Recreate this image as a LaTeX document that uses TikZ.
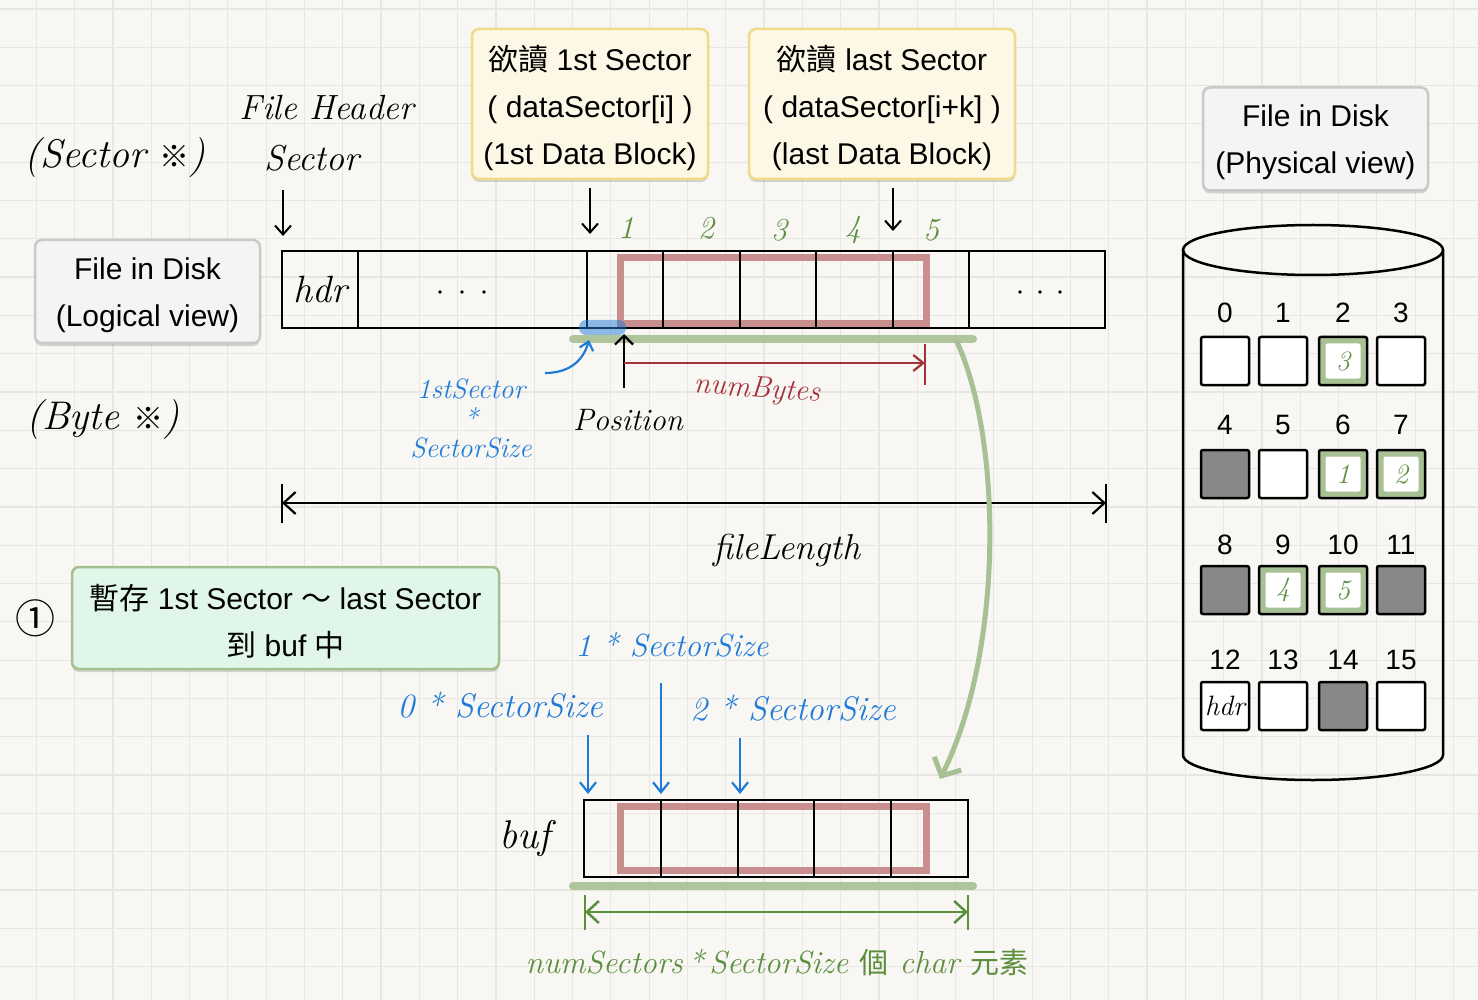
\documentclass[tikz,border=0pt]{standalone}
\usepackage{fontspec}
\setsansfont{Liberation Sans}
\newfontfamily\cjk{Noto Sans CJK TC}
\usetikzlibrary{arrows.meta,shadows,calc}
\definecolor{bgc}{HTML}{F8F7F3}
\definecolor{gridc}{HTML}{E7E6E2}
\definecolor{pinkc}{HTML}{C98F8F}
\definecolor{greenl}{HTML}{A8C194}
\definecolor{greend}{HTML}{5B8F3E}
\definecolor{bluec}{HTML}{1F7BD8}
\definecolor{redc}{HTML}{A3333A}
\definecolor{yfill}{HTML}{FDF8E6}
\definecolor{ydraw}{HTML}{EEDC88}
\definecolor{gfill}{HTML}{F4F4F4}
\definecolor{gdraw}{HTML}{C9C9C9}
\definecolor{mfill}{HTML}{E0F6E9}
\definecolor{mdraw}{HTML}{A5C08E}
\definecolor{darkc}{HTML}{888888}
\begin{document}
\begin{tikzpicture}[x=1pt,y=-1pt,
  box/.style={rounded corners=7pt, line width=2.5pt, inner sep=0pt,
    drop shadow={shadow xshift=0pt, shadow yshift=-3pt, opacity=0.15, fill=black}},
  boxtext/.style={align=center, inner sep=0pt, font=\sffamily\fontsize{30}{47}\selectfont},
  yellowbox/.style={box, fill=yfill, draw=ydraw, minimum height=150pt},
  graybox/.style={box, fill=gfill, draw=gdraw, minimum width=225pt, minimum height=103pt},
  mintbox/.style={box, fill=mfill, draw=mdraw, minimum width=427pt, minimum height=102pt},
  hand/.style={inner sep=0pt, align=center, font=\rmfamily\itshape\fontsize{40}{44}\selectfont},
  handm/.style={inner sep=0pt, align=center, font=\rmfamily\itshape\fontsize{32}{36}\selectfont},
  barline/.style={line width=2.5pt},
  arr/.style={line width=2pt, -{Straight Barb[length=9pt,width=16pt]}},
  sq/.style={draw, line width=2.5pt, rounded corners=2pt, minimum width=48pt, minimum height=48pt, inner sep=0pt, fill=white},
  sqdark/.style={sq, fill=darkc},
  sqgreen/.style={sq, fill=greenl, path picture={\fill[white] ([shift={(6.5pt,6.5pt)}]path picture bounding box.south west) rectangle ([shift={(-6.5pt,-6.5pt)}]path picture bounding box.north east);},
    text=greend, font=\rmfamily\itshape\fontsize{28}{30}\selectfont},
  numlab/.style={inner sep=0pt, font=\sffamily\fontsize{28}{30}\selectfont},
  thickgreen/.style={greenl, line width=8pt, line cap=round, opacity=0.9}
]
\useasboundingbox (0,0) rectangle (1478,1000);
\fill[bgc] (0,0) rectangle (1478,1000);
\foreach \i in {0,...,39} \draw[gridc, line width=1.2pt] ({-2+38.3*\i},0) -- ++(0,1000);
\foreach \j in {0,...,26} \draw[gridc, line width=1.2pt] (0,{9+38.3*\j}) -- ++(1478,0);

% ---- handwritten headings
\node[hand] (seclab) at (115,158) {(Sector {\cjk\fontsize{30}{32}\selectfont ※})};
\node[hand, font=\rmfamily\itshape\fontsize{35}{40}\selectfont] (fhlab) at (327,108) {File Header};
\node[hand, font=\rmfamily\itshape\fontsize{36}{40}\selectfont] (fhsec) at (312,158) {Sector};
\node[hand] (bytelab) at (103,420) {(Byte {\cjk\fontsize{30}{32}\selectfont ※})};
\coordinate (fhA) at (283,190); \coordinate (fhB) at (283,236);
\draw[arr] (fhA) -- (fhB);

% ---- boxes
\node[graybox] (logical) at (147.5,291.5) {};
\node[boxtext] (logicalt) at (147.5,295) {File in Disk\\(Logical view)};
\node[graybox] (physical) at (1315.5,139) {};
\node[boxtext] (physicalt) at (1315.5,142.5) {File in Disk\\(Physical view)};
\node[yellowbox, minimum width=236pt] (first) at (590,104) {};
\node[boxtext] (firstt) at (590,108) {{\cjk 欲讀} 1st Sector\\( dataSector[i] )\\(1st Data Block)};
\node[yellowbox, minimum width=266pt] (last) at (882,104) {};
\node[boxtext] (lastt) at (882,108) {{\cjk 欲讀} last Sector\\( dataSector[i+k] )\\(last Data Block)};
\node[mintbox] (store) at (285.5,618) {};
\node[boxtext] (storet) at (285.5,621.5) {{\cjk 暫存} 1st Sector {\cjk ～} last Sector\\{\cjk 到} buf {\cjk 中}};
\node[inner sep=0pt, font=\cjk\fontsize{40}{40}\selectfont] (one) at (35,618) {①};

\coordinate (firstA) at (590,188); \coordinate (firstB) at (590,234);
\coordinate (lastA) at (893,188); \coordinate (lastB) at (893,231);
\draw[arr] (firstA) -- (firstB);
\draw[arr] (lastA) -- (lastB);

% green numbers
\foreach \x/\y/\t in {626/228/1, 706/228/2, 779/230/3, 853/230/4, 931/230/5}
  \node[handm, text=greend] (n\t) at (\x,\y) {\t};

% ---- logical bar
\draw[pinkc, line width=7pt] (620.5,257.5) rectangle (926.5,323.5);
\draw[barline] (282,251) rectangle (1105,328);
\foreach \x in {358,587,663,740,816,893,969} \draw[barline] (\x,251) -- (\x,328);
\node[hand, font=\rmfamily\itshape\fontsize{38}{40}\selectfont] (hdr) at (320,290) {hdr};
\foreach \x in {440,462,484,1020,1040,1060} \fill (\x,292) circle (1.8pt);
\fill[bluec, opacity=0.5, rounded corners=7pt] (579,320) rectangle (626,335);
\draw[thickgreen] (573,339) -- (973,339);

% position
\coordinate (posA) at (624,388); \coordinate (posB) at (624,334);
\draw[line width=2.2pt, -{Straight Barb[length=9pt,width=18pt]}] (posA) -- (posB);
\node[handm, font=\rmfamily\itshape\fontsize{31}{36}\selectfont] (pos) at (628,420) {Position};

% numBytes
\coordinate (nbA) at (624,363); \coordinate (nbB) at (925,363);
\draw[redc, line width=2.2pt, -{Straight Barb[length=10pt,width=16pt]}] (nbA) -- (nbB);
\draw[redc, line width=2.2pt] (925,344) -- (925,385);
\node[handm, text=redc, rotate=-4, font=\rmfamily\itshape\fontsize{30}{34}\selectfont] (nb) at (757,390) {numBytes};

% 1stSector * SectorSize
\node[handm, text=bluec, font=\rmfamily\itshape\fontsize{28}{28}\selectfont] (fss) at (471,389) {1stSector};
\node[handm, text=bluec, font=\rmfamily\itshape\fontsize{28}{28}\selectfont] (fssm) at (471,418) {*};
\node[handm, text=bluec, font=\rmfamily\itshape\fontsize{28}{28}\selectfont] (fssb) at (471,448) {SectorSize};
\coordinate (fssA) at (545,373); \coordinate (fssB) at (589,340);
\draw[bluec, line width=2.2pt, -{Straight Barb[length=8pt,width=14pt]}] (fssA) .. controls (572,373) and (584,358) .. (fssB);

% fileLength
\coordinate (flA) at (282,503); \coordinate (flB) at (1106,503);
\draw[line width=2.2pt, {Straight Barb[length=12pt,width=22pt]}-{Straight Barb[length=12pt,width=22pt]}] (flA) -- (flB);
\draw[line width=2.2pt] (282,484) -- (282,523) (1106,484) -- (1106,523);
\node[hand, font=\rmfamily\itshape\fontsize{36}{40}\selectfont] (fl) at (787,550) {fileLength};

% green curve to buf
\coordinate (gcA) at (957,342); \coordinate (gcB) at (940,779);
\draw[greenl, line width=5pt, line cap=round, -{Straight Barb[length=14pt,width=30pt]}] (gcA) .. controls (1002,440) and (1004,650) .. (gcB);

% ---- buffer labels
\node[handm, text=bluec, font=\rmfamily\itshape\fontsize{32}{36}\selectfont] (s1) at (672,645) {1 * SectorSize};
\node[handm, text=bluec, font=\rmfamily\itshape\fontsize{34}{36}\selectfont] (s0) at (500,705) {0 * SectorSize};
\node[handm, text=bluec, font=\rmfamily\itshape\fontsize{34}{36}\selectfont] (s2) at (793,708) {2 * SectorSize};
\coordinate (b0A) at (588,735); \coordinate (b0B) at (588,794);
\coordinate (b1A) at (661,683); \coordinate (b1B) at (661,794);
\coordinate (b2A) at (740,738); \coordinate (b2B) at (740,794);
\foreach \n in {0,1,2} \draw[bluec, line width=2.2pt, -{Straight Barb[length=10pt,width=16pt]}] (b\n A) -- (b\n B);

% buf bar
\draw[pinkc, line width=7pt] (620.5,806.5) rectangle (926.5,870.5);
\draw[barline] (584,800) rectangle (968,877);
\foreach \x in {661,738,814,891} \draw[barline] (\x,800) -- (\x,877);
\node[hand] (buf) at (525,838) {buf};
\draw[thickgreen] (573,886) -- (973,886);

\coordinate (nsA) at (585,912); \coordinate (nsB) at (968,912);
\draw[greend, line width=2.5pt, {Straight Barb[length=12pt,width=22pt]}-{Straight Barb[length=12pt,width=22pt]}] (nsA) -- (nsB);
\draw[greend, line width=2.5pt] (585,895) -- (585,930) (968,895) -- (968,930);
\node[hand, text=greend, font=\rmfamily\itshape\fontsize{32}{40}\selectfont] (ns) at (777,962) {numSectors\,*\,SectorSize {\cjk\fontsize{29}{34}\selectfont 個} char {\cjk\fontsize{29}{34}\selectfont 元素}};

% ---- cylinder
\draw[line width=2.5pt] (1313,250) ellipse [x radius=130, y radius=25];
\draw[line width=2.5pt] (1183,250) -- (1183,755) arc[start angle=180, end angle=0, x radius=130, y radius=25] -- (1443,250);

\foreach \r/\ly in {0/313, 1/425, 2/545, 3/660}{
  \foreach \c/\cx in {0/1225, 1/1283, 2/1343, 3/1401}{
    \pgfmathtruncatemacro{\k}{4*\r+\c}
    \node[numlab] (lab\k) at (\cx,\ly) {\k};
  }
}
\node[sq] (d0) at (1225,361) {};
\node[sq] (d1) at (1283,361) {};
\node[sqgreen] (d2) at (1343,361) {3};
\node[sq] (d3) at (1401,361) {};
\node[sqdark] (d4) at (1225,474) {};
\node[sq] (d5) at (1283,474) {};
\node[sqgreen] (d6) at (1343,474) {1};
\node[sqgreen] (d7) at (1401,474) {2};
\node[sqdark] (d8) at (1225,590) {};
\node[sqgreen] (d9) at (1283,590) {4};
\node[sqgreen] (d10) at (1343,590) {5};
\node[sqdark] (d11) at (1401,590) {};
\node[sq, font=\rmfamily\itshape\fontsize{28}{32}\selectfont] (d12) at (1225,706) {hdr};
\node[sq] (d13) at (1283,706) {};
\node[sqdark] (d14) at (1343,706) {};
\node[sq] (d15) at (1401,706) {};
\end{tikzpicture}
\end{document}
